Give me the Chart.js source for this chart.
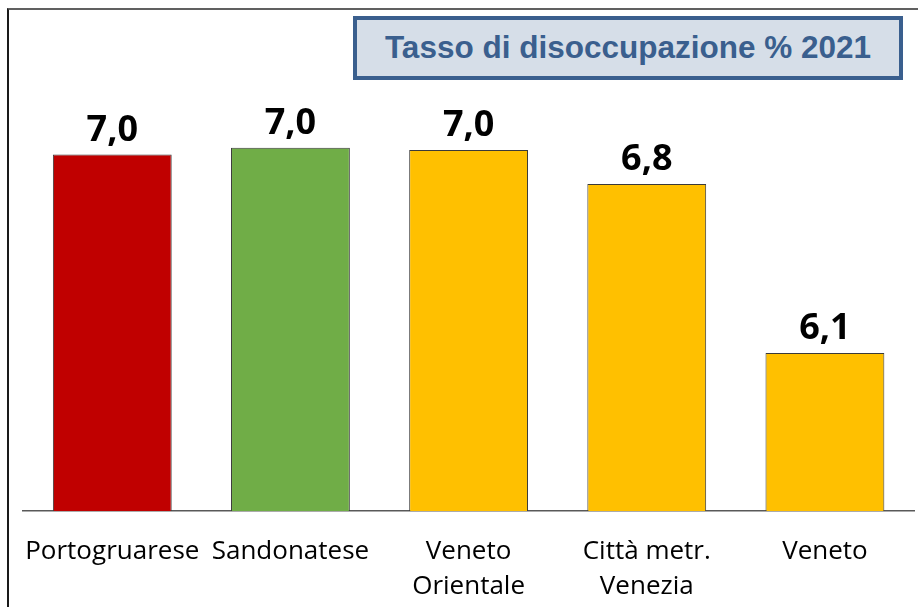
<!DOCTYPE html>
<html>
<head>
<meta charset="utf-8">
<script src="https://cdn.jsdelivr.net/npm/chart.js@4.4.1/dist/chart.umd.min.js"></script>
<style>
  html, body { margin: 0; padding: 0; background: #ffffff; }
  #wrap { position: relative; width: 918px; height: 607px; overflow: hidden; }
  #frame { position: absolute; left: 7px; top: 8px; width: 930px; height: 620px;
           border-top: 2px solid #606060; border-left: 2px solid #1a1a1a; box-sizing: border-box; }
  #titlebox { position: absolute; left: 353px; top: 16px; width: 550px; height: 64px;
              box-sizing: border-box; border: 4.5px solid #3A5F8E; background: #D6DEE8;
              font-family: "Liberation Sans", Arial, sans-serif; font-weight: bold; font-size: 31.5px;
              color: #3A5F8E; text-align: center; line-height: 55px; white-space: nowrap; }
  canvas { position: absolute; left: 0; top: 0; }
</style>
</head>
<body>
<div id="wrap">
  <div id="frame"></div>
  <canvas id="c" width="918" height="607"></canvas>
  <div id="titlebox">Tasso di disoccupazione % 2021</div>
</div>
<script>
const categories = [
  "Portogruarese",
  "Sandonatese",
  ["Veneto", "Orientale"],
  ["Città metr.", "Venezia"],
  "Veneto"
];
const values = [6.98, 7.01, 7.00, 6.85, 6.10];
const barColors = ["#C00000", "#70AD47", "#FFC000", "#FFC000", "#FFC000"];

const valueLabels = {
  id: "valueLabels",
  afterDatasetsDraw(chart) {
    const ctx = chart.ctx;
    const meta = chart.getDatasetMeta(0);
    ctx.save();
    ctx.font = "bold 36px 'Open Sans', sans-serif";
    ctx.fillStyle = "#000000";
    ctx.textAlign = "center";
    ctx.textBaseline = "alphabetic";
    meta.data.forEach((bar, i) => {
      const txt = values[i].toFixed(1).replace(".", ",");
      ctx.fillText(txt, bar.x, bar.y - 14);
    });
    ctx.restore();
  }
};

new Chart(document.getElementById("c"), {
  type: "bar",
  data: {
    labels: categories,
    datasets: [{
      data: values,
      backgroundColor: barColors,
      borderColor: "#3a3a3a",
      borderWidth: 1,
      categoryPercentage: 1,
      barPercentage: 0.667
    }]
  },
  options: {
    responsive: false,
    animation: false,
    events: [],
    layout: { padding: { left: 22, right: 4, top: 105, bottom: 0 } },
    plugins: { legend: { display: false }, tooltip: { enabled: false }, title: { display: false } },
    scales: {
      y: { display: false, min: 5.4, max: 7.2 },
      x: {
        afterFit(scale) { scale.height = 96; },
        grid: { display: true, color: "rgba(0,0,0,0)", drawTicks: false },
        border: { display: true, color: "#595959", width: 1.5 },
        ticks: {
          color: "#000000",
          padding: 23,
          maxRotation: 0,
          autoSkip: false,
          font: { family: "'Open Sans', sans-serif", size: 26, lineHeight: 1.35 }
        }
      }
    }
  },
  plugins: [valueLabels]
});
</script>
</body>
</html>
